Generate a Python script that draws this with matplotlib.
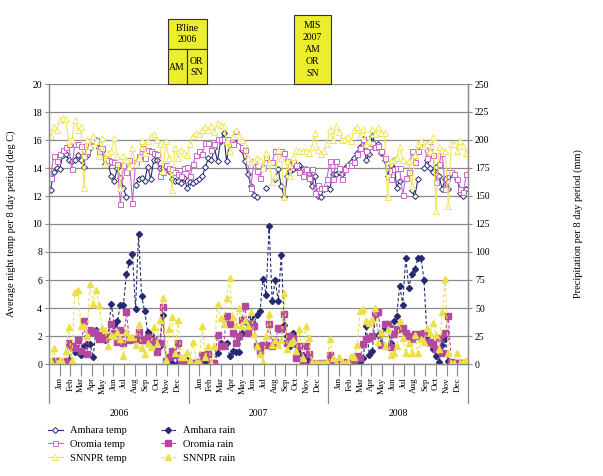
import numpy as np
import matplotlib
matplotlib.use("Agg")
import matplotlib.pyplot as plt
from matplotlib.patches import Rectangle

plt.rcParams['font.family'] = ['Liberation Serif', 'DejaVu Serif']

nan = np.nan

# 46 eight-day periods per year, 2006 / 2007 / 2008
years = ['2006', '2007', '2008']
months = ['Jan', 'Feb', 'Mar', 'Apr', 'May', 'Jun', 'Jul', 'Aug', 'Sep', 'Oct', 'Nov', 'Dec']

# night temperature (deg C)
amhara_temp = [
    12.4, 13.7, 14.0, 13.9, 14.9, 15.0, 14.6, 14.5, 14.6, 14.9, 14.6, 14.1, 14.9, 15.4, 15.9, 16.0, 15.4, 15.2, 14.3, 14.3, 13.4, 13.1, 14.0, 13.3, 12.6, 11.9, nan, nan, 12.8, 13.2, 13.3, 13.1, 14.1, 13.2, 14.6, 14.6, 14.0, 14.0, 14.1, 13.8, 13.2, 13.1, 13.1, 12.9, 13.3, 12.6,
    13.0, 12.9, 13.1, 13.2, 13.4, 14.1, 14.7, 14.6, 15.4, 14.5, 15.9, 16.5, 14.5, 15.8, 15.9, 16.6, 16.0, 15.3, 14.5, 13.6, 12.7, 12.1, 11.9, nan, nan, 12.6, nan, nan, 13.2, 13.9, 12.7, 11.9, 13.4, 13.8, 13.9, 14.1, 14.2, 13.9, 13.9, 13.6, 12.7, 13.4, 12.0, 11.9, 12.5, 12.6,
    12.5, 13.6, 13.6, 13.7, 13.6, 14.0, 14.2, 14.4, 14.7, 15.1, 15.5, 16.05, 14.6, 15.0, 16.3, 15.5, 15.7, 15.1, 14.6, 13.4, 14.2, 14.6, 12.6, 13.1, nan, nan, nan, 12.4, 12.0, 13.2, nan, 14.0, 14.6, 14.0, 13.7, 14.1, 13.4, 12.5, 13.2, 12.5, 13.6, 13.6, 13.2, 12.2, 12.0, 12.5,
]
oromia_temp = [
    13.3, 14.85, 14.5, 15.0, 15.3, 15.5, 15.7, 13.9, 15.7, 15.7, 15.6, 14.85, 15.25, 15.9, 16.0, 16.0, 15.2, 15.4, 14.7, 14.6, 14.5, 14.4, 14.3, 11.4, 14.2, 13.7, 14.6, 11.5, 14.4, 14.85, 15.4, 14.7, 15.3, 15.2, 15.1, 15.0, 13.4, 13.7, 14.2, 14.0, 13.9, 13.7, 13.6, 13.4, 14.0, 14.1,
    13.4, 14.3, 14.9, 15.2, 15.0, 15.8, 15.8, 15.3, 15.7, 16.1, 16.1, 16.1, 16.1, 15.7, 15.7, 16.3, 16.0, 15.5, 15.3, 14.4, 12.6, 14.5, 13.8, 13.3, 14.1, 14.8, 14.4, 14.4, 15.2, 15.2, 15.2, 15.1, 14.5, 14.2, 14.4, 14.2, 13.7, 13.4, 13.9, 13.3, 13.9, 12.2, 12.8, 12.6, 12.6, 13.2,
    14.5, 13.2, 14.5, 14.0, 13.2, 13.9, 14.2, 14.2, 14.4, 15.0, 15.4, 16.1, 15.2, 15.6, 15.8, 15.5, 15.6, 15.2, 14.75, 13.4, 13.2, 13.9, 14.0, 14.0, 12.1, 13.3, 13.7, 15.2, 14.4, 15.2, 15.6, 15.6, 14.75, 15.6, 14.9, 13.0, 14.3, 15.1, 12.5, 13.7, 13.7, 13.6, 13.2, 12.5, 12.3, 13.6,
]
snnpr_temp = [
    16.3, 16.9, 16.7, 17.45, 17.6, 17.5, 15.9, 16.0, 17.45, 16.7, 16.9, 12.6, 16.0, 15.6, 16.3, 15.9, 14.85, 16.15, 14.3, 15.1, 15.2, 16.15, 14.85, 12.6, 14.85, 14.6, 14.1, 15.4, 14.3, 14.7, 15.9, 15.1, 15.9, 16.3, 16.4, 16.0, 15.7, 13.8, 15.9, 14.7, 12.4, 15.4, 14.7, 15.3, 15.1, 14.9,
    15.7, 16.3, 16.5, 16.4, 16.7, 16.9, 16.7, 17.0, 16.6, 17.2, 17.1, 17.0, 15.9, 15.2, 16.3, 16.7, 16.3, 16.0, 15.7, 14.7, 14.4, 14.6, 14.7, 14.6, 14.0, 15.1, 14.4, 13.0, 13.4, 15.3, 14.7, 11.9, 14.5, 13.4, 14.8, 15.3, 15.2, 15.2, 15.2, 15.1, 15.5, 16.5, 15.3, 15.0, 15.2, 15.7,
    16.7, 16.0, 17.0, 16.6, 16.0, 16.1, 16.2, 15.9, 16.7, 16.9, 16.3, 16.8, 15.7, 15.9, 16.8, 16.4, 16.9, 16.5, 16.5, 11.9, 14.5, 14.6, 14.75, 15.5, 14.6, 14.3, 14.5, 12.7, 14.9, 15.7, 15.9, 15.6, 15.7, 15.2, 16.2, 10.9, 15.5, 15.3, 15.2, 11.3, 15.7, 15.7, 15.2, 15.9, 15.6, 15.1,
]

# precipitation (mm per 8 day period)
amhara_rain = [
    1, 2, 2, 1, 1, 3, 4, 16, 11, 11, 8, 16, 18, 18, 6, 30, 26, 24, 21, 25, 54, 35, 38, 53, 53, 80, 91, 98, 49, 116, 61, 47, 29, 26, 23, 16, 16, 44, 2, 1, 1, 8, 1, 1, 1, 4,
    1, 1, 1, 2, 4, 3, 2, 1, 1, 10, 19, 17, 19, 7, 12, 11, 11, 28, 38, 31, 42, 36, 44, 47, 76, 62, 123, 56, 75, 56, 97, 35, 25, 16, 28, 9, 10, 8, 5, 3, 1, 0, 1, 0, 1, 1,
    8, 1, 1, 1, 1, 2, 1, 1, 1, 1, 2, 5, 34, 8, 12, 44, 26, 19, 32, 35, 19, 38, 43, 70, 53, 95, 68, 80, 85, 95, 95, 75, 25, 20, 13, 7, 2, 17, 22, 3, 1, 1, 1, 1, 1, 1,
]
oromia_rain = [
    1, 3, 3, 1, 2, 3, 19, 16, 14, 21, 12, 38, 9, 30, 29, 29, 22, 29, 22, 25, 36, 28, 20, 30, 19, 46, 21, 22, 22, 29, 21, 21, 24, 20, 21, 11, 19, 51, 3, 6, 12, 8, 19, 1, 1, 1,
    1, 1, 1, 2, 8, 8, 9, 1, 1, 26, 16, 16, 43, 36, 28, 19, 25, 39, 52, 28, 36, 34, 16, 12, 17, 17, 36, 16, 20, 32, 31, 45, 19, 25, 23, 5, 16, 2, 16, 9, 1, 0, 0, 1, 0, 1,
    8, 2, 1, 1, 1, 1, 1, 1, 2, 7, 5, 18, 22, 23, 25, 45, 46, 17, 36, 36, 15, 27, 31, 31, 32, 28, 25, 22, 27, 25, 27, 28, 20, 20, 18, 13, 23, 10, 28, 43, 2, 1, 1, 1, 1, 1,
]
snnpr_rain = [
    3, 14, 1, 4, 1, 12, 33, 4, 64, 66, 34, 34, 25, 71, 54, 66, 53, 32, 30, 16, 26, 25, 29, 22, 7, 29, 24, 24, 17, 36, 14, 9, 19, 15, 33, 18, 39, 59, 4, 31, 42, 10, 39, 6, 6, 11,
    4, 20, 2, 2, 34, 6, 16, 1, 16, 54, 41, 36, 59, 77, 42, 35, 50, 34, 39, 34, 46, 27, 16, 9, 2, 25, 45, 17, 21, 17, 21, 63, 13, 19, 21, 12, 31, 5, 34, 23, 2, 1, 1, 1, 1, 2,
    22, 5, 1, 6, 2, 1, 2, 7, 6, 17, 47, 49, 38, 37, 40, 50, 20, 29, 16, 31, 8, 10, 16, 38, 23, 10, 19, 10, 26, 10, 22, 20, 32, 28, 37, 26, 13, 46, 76, 10, 1, 1, 10, 1, 2, 4,
]

n_per_year = 46
navy = '#262a72'
mag_t = '#cc66cc'
mag_r = '#b4489f'
yel_t = '#efe656'
yel_r = '#ebe04a'
grey = '#8a8a8a'

W, H = 603, 476
fig = plt.figure(figsize=(W / 100, H / 100), dpi=100)
ax = fig.add_axes([49 / W, 1 - 364 / H, 419 / W, 280 / H])
ax2 = ax.twinx()

x = np.arange(len(amhara_temp))

l1, = ax.plot(x, np.array(amhara_temp, float), '-', color=navy, lw=0.8,
              marker='D', ms=3.0, mfc='white', mec=navy, mew=0.7)
l2, = ax.plot(x, np.array(oromia_temp, float), '-', color=mag_t, lw=0.8,
              marker='s', ms=3.6, mfc='white', mec=mag_t, mew=0.7)
l3, = ax.plot(x, np.array(snnpr_temp, float), '-', color=yel_t, lw=0.8,
              marker='^', ms=4.0, mfc='white', mec=yel_t, mew=0.7)

d = (3, 2)
r1, = ax2.plot(x, amhara_rain, '--', dashes=d, color=navy, lw=0.8,
               marker='D', ms=3.1, mfc=navy, mec=navy)
r2, = ax2.plot(x, oromia_rain, '--', dashes=d, color=mag_r, lw=0.8,
               marker='s', ms=3.8, mfc=mag_r, mec=mag_r)
r3, = ax2.plot(x, snnpr_rain, '--', dashes=d, color=yel_r, lw=0.8,
               marker='^', ms=4.3, mfc=yel_r, mec=yel_r)

xmin, xmax = -0.5, len(x) - 0.5
ax.set_xlim(xmin, xmax)
ax.set_ylim(0, 20)
ax2.set_ylim(0, 250)
ax.set_yticks(range(0, 21, 2))
ax2.set_yticks(range(0, 251, 25))
ax.grid(axis='y', color=grey, lw=0.9)
ax.set_axisbelow(True)

for a in (ax, ax2):
    for s in a.spines.values():
        s.set_color(grey)
        s.set_linewidth(0.9)
    a.spines['top'].set_visible(False)
    a.tick_params(axis='y', length=3, width=0.8, color=grey, labelsize=7, pad=2)

# month ticks: each year split into 13 slots, labels on the inner 12 ticks
pos, labs = [], []
for yi in range(len(years)):
    for k in range(1, 13):
        pos.append(yi * n_per_year - 0.5 + k * n_per_year / 13)
        labs.append(months[k - 1])
ax.set_xticks(pos)
ax.set_xticklabels(labs, rotation=90, fontsize=6.5)
ax.tick_params(axis='x', length=8.6, width=0.8, color=grey, pad=1)

trans = ax.get_xaxis_transform()
for yi in range(len(years) + 1):
    b = yi * n_per_year - 0.5
    ax.plot([b, b], [0, -0.14], color=grey, lw=0.9, transform=trans, clip_on=False)
for yi, yr in enumerate(years):
    ax.text(yi * n_per_year + n_per_year / 2 - 0.5, -0.175, yr, transform=trans,
            ha='center', va='center', fontsize=7)

ax.set_ylabel('Average night temp per 8 day period (deg C)', fontsize=7.5)
ax.yaxis.set_label_coords(-0.078, 0.5)
ax2.set_ylabel('Precipitation per 8 day period (mm)', fontsize=7.5)
ax2.yaxis.set_label_coords(1.252, 0.5)

fig.legend([l1, l2, l3, r1, r2, r3],
           ['Amhara temp', 'Oromia temp', 'SNNPR temp',
            'Amhara rain', 'Oromia rain', 'SNNPR rain'],
           loc='upper left', bbox_to_anchor=(44 / W, 1 - 422 / H), ncol=2,
           frameon=False, fontsize=7.5, handlelength=1.4, handletextpad=0.7,
           columnspacing=3.3, labelspacing=0.42, borderaxespad=0)


# yellow intervention boxes above the plot
def box(x0, y0, x1, y1):
    fig.patches.append(Rectangle((x0 / W, 1 - y1 / H), (x1 - x0) / W, (y1 - y0) / H,
                                 transform=fig.transFigure, facecolor='#eded2f',
                                 edgecolor='#333333', lw=0.8))


def label(xc, yc, s):
    fig.text(xc / W, 1 - yc / H, s, ha='center', va='center', fontsize=7,
             linespacing=1.4)


box(167.7, 19, 206.7, 49)
box(167.7, 49, 186.7, 84)
box(186.7, 49, 206.7, 84)
label(187.2, 34, "B'line\n2006")
label(177.2, 67, 'AM')
label(196.7, 67, 'OR\nSN')
box(294, 15, 331, 84)
label(312.5, 49.5, 'MIS\n2007\nAM\nOR\nSN')

fig.savefig('out.png', dpi=100)
